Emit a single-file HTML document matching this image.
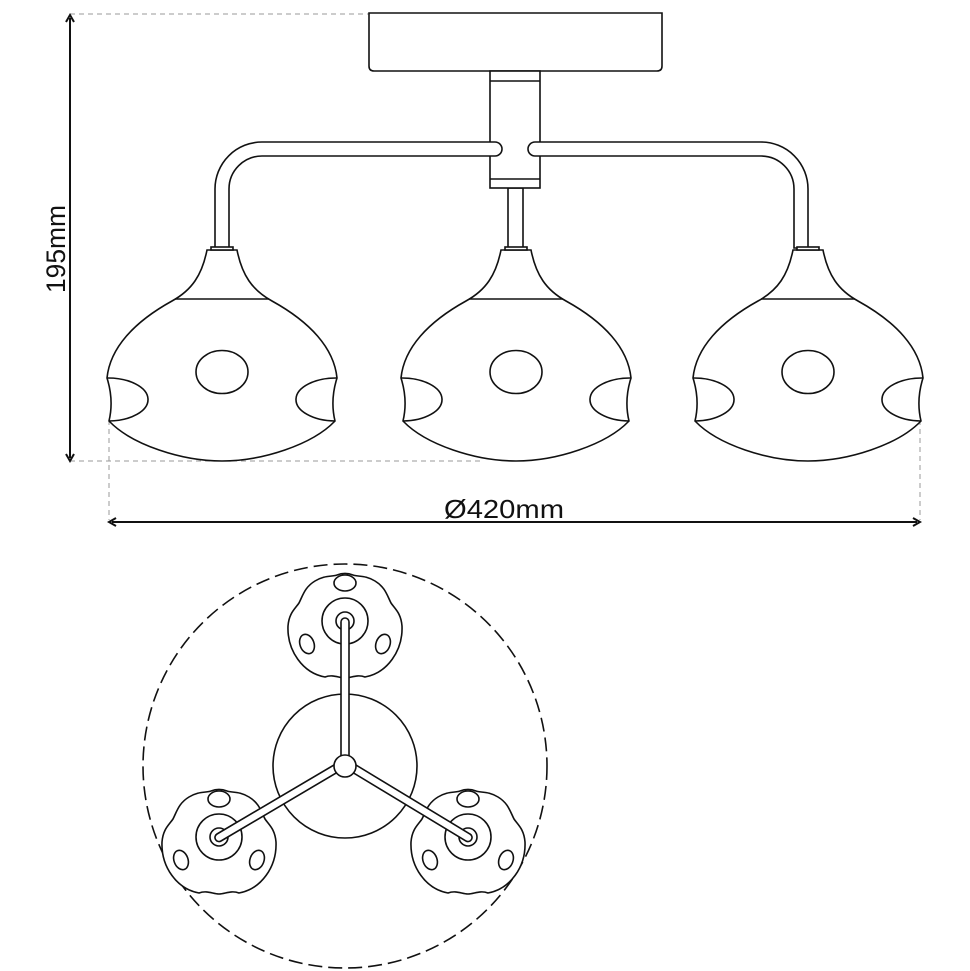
<!DOCTYPE html>
<html><head><meta charset="utf-8"><style>
html,body{margin:0;padding:0;background:#fff;}
svg{display:block;}
text{font-family:"Liberation Sans",sans-serif;fill:#111;}
</style></head><body>
<svg width="970" height="971" viewBox="0 0 970 971" xmlns="http://www.w3.org/2000/svg">
<defs>
<g id="shade" fill="#fff" stroke="#111" stroke-width="1.6">
  <path d="M-15,0 C-20,25 -30,40 -50,51 C-88,72 -112,98 -115,128 Q-108,150 -113,171 C-90,195 -40,211 0,211 C40,211 90,195 113,171 Q108,150 115,128 C112,98 88,72 50,51 C30,40 20,25 15,0 Z"/>
  <line x1="-47" y1="49" x2="47" y2="49"/>
  <rect x="-11" y="-3" width="22" height="3"/>
  <ellipse cx="0" cy="122" rx="26" ry="21.5" fill="none"/>
  <path d="M-115,128 A40,21.5 0 1 1 -113,171" fill="none"/>
  <path d="M115,128 A40,21.5 0 1 0 113,171" fill="none"/>
</g>
<g id="bs" fill="none" stroke="#111" stroke-width="1.6">
  <path d="M-30,-40 C-20,-46 -14,-44 -8,-46 C-3,-48 3,-48 8,-46 C14,-44 20,-46 30,-40 C40,-34 42,-26 46,-18 C50,-12 56,-8 57,5 C58,30 42,52 20,56 C12,53 6,57 0,57 C-6,57 -12,53 -20,56 C-42,52 -58,30 -57,5 C-56,-8 -50,-12 -46,-18 C-42,-26 -40,-34 -30,-40 Z" fill="#fff"/>
  <ellipse cx="0" cy="-38" rx="11" ry="8"/>
  <ellipse cx="-38" cy="23" rx="7" ry="10" transform="rotate(-20 -38 23)"/>
  <ellipse cx="38" cy="23" rx="7" ry="10" transform="rotate(20 38 23)"/>
  <circle r="23"/>
  <circle r="9"/>
</g>
</defs>

<g stroke="#999" stroke-width="1" stroke-dasharray="5,4" fill="none">
  <line x1="70" y1="14" x2="369" y2="14"/>
  <line x1="70" y1="461" x2="480" y2="461"/>
  <line x1="109" y1="420" x2="109" y2="520"/>
  <line x1="920" y1="420" x2="920" y2="520"/>
</g>
<g stroke="#111" stroke-width="2" fill="none">
  <line x1="70" y1="18" x2="70" y2="458"/>
  <path d="M66,22 L70,15 L74,22"/>
  <path d="M66,454 L70,461 L74,454"/>
  <line x1="112" y1="522" x2="917" y2="522"/>
  <path d="M116,518 L109,522 L116,526"/>
  <path d="M913,518 L920,522 L913,526"/>
</g>
<text x="0" y="0" font-size="27" transform="translate(65,293) rotate(-90)" textLength="88" lengthAdjust="spacingAndGlyphs">195mm</text>
<text x="444" y="518" font-size="26" textLength="120" lengthAdjust="spacingAndGlyphs">Ø420mm</text>

<g fill="#fff" stroke="#111" stroke-width="1.6">
  <path d="M369,13 H662 V66 Q662,71 657,71 H374 Q369,71 369,66 Z"/>
  <rect x="508" y="188" width="15" height="60"/>
  <rect x="490" y="71" width="50" height="117"/>
  <line x1="490" y1="81" x2="540" y2="81"/>
  <line x1="490" y1="179" x2="540" y2="179"/>
  <path d="M495,142 H262 A47,47 0 0 0 215,189 V248 H229 V189 A33,33 0 0 1 262,156 H495 A7,7 0 0 0 495,142 Z"/>
  <path d="M535,142 H761 A47,47 0 0 1 808,189 V248 H794 V189 A33,33 0 0 0 761,156 H535 A7,7 0 0 1 535,142 Z"/>
</g>
<use href="#shade" x="222" y="250"/>
<use href="#shade" x="516" y="250"/>
<use href="#shade" x="808" y="250"/>

<circle cx="345" cy="766" r="202" fill="none" stroke="#111" stroke-width="1.6" stroke-dasharray="14,6"/>
<use href="#bs" x="345" y="621"/>
<use href="#bs" x="219" y="837"/>
<use href="#bs" x="468" y="837"/>
<circle cx="345" cy="766" r="72" fill="none" stroke="#111" stroke-width="1.6"/>
<g fill="#fff" stroke="#111" stroke-width="1.6">
  <path d="M341,622 V760 H349 V622 A4,4 0 0 0 341,622 Z"/>
  <path d="M339,762 L217,834 A4,4 0 0 0 221,841 L343,769 Z"/>
  <path d="M351,762 L470,834 A4,4 0 0 1 466,841 L347,769 Z"/>
  <circle cx="345" cy="766" r="11"/>
</g>
<g stroke="#fff" stroke-width="1" stroke-dasharray="2,2">
  <line x1="345" y1="696" x2="345" y2="752"/>
</g>
</svg>
</body></html>
